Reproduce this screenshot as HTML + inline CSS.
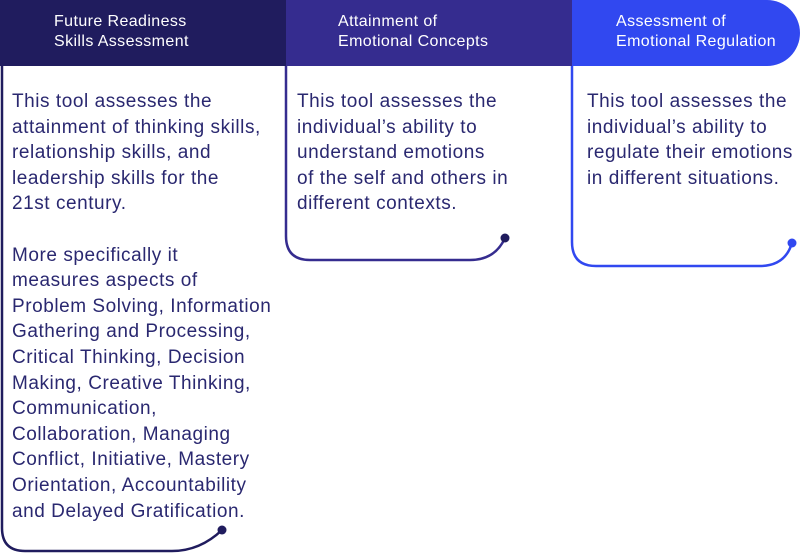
<!DOCTYPE html>
<html><head><meta charset="utf-8"><style>
body{margin:0;width:800px;height:553px;background:#fff;position:relative;overflow:hidden;font-family:"Liberation Sans",sans-serif}
.h{position:absolute;top:0;height:66px;color:#fff;font-size:16px;line-height:20px;letter-spacing:0.4px;box-sizing:border-box;padding-top:12px}
.t{position:absolute;color:#2a2870;font-size:19px;line-height:25.6px;letter-spacing:0.55px;white-space:nowrap}
</style></head><body>
<div class="h" style="left:0;width:286px;background:#201c5e;padding-left:54px">Future Readiness<br>Skills Assessment</div>
<div class="h" style="left:286px;width:286px;background:#352c8f;padding-left:52px">Attainment of<br>Emotional Concepts</div>
<div class="h" style="left:572px;width:228px;background:#3148f0;padding-left:44px;border-radius:0 33px 33px 0">Assessment of<br>Emotional Regulation</div>
<svg width="800" height="553" style="position:absolute;left:0;top:0">
<path d="M2 66 V528 Q2 551 25 551 H172 Q200 551 222 530" fill="none" stroke="#201c5e" stroke-width="2.5"/>
<circle cx="222" cy="530" r="4.5" fill="#201c5e"/>
<path d="M286 66 V236 Q286 260 310 260 H470 Q495 260 505 238" fill="none" stroke="#352c8f" stroke-width="2.5"/>
<circle cx="505" cy="238" r="4.5" fill="#201c5e"/>
<path d="M572 66 V242 Q572 266 596 266 H760 Q785 266 792 243" fill="none" stroke="#3148f0" stroke-width="2.5"/>
<circle cx="792" cy="243" r="4.5" fill="#3148f0"/>
</svg>
<div class="t" style="left:12px;top:89px">This tool assesses the<br>attainment of thinking skills,<br>relationship skills, and<br>leadership skills for the<br>21st century.<br><br>More specifically it<br>measures aspects of<br>Problem Solving, Information<br>Gathering and Processing,<br>Critical Thinking, Decision<br>Making, Creative Thinking,<br>Communication,<br>Collaboration, Managing<br>Conflict, Initiative, Mastery<br>Orientation, Accountability<br>and Delayed Gratification.</div>
<div class="t" style="left:297px;top:89px">This tool assesses the<br>individual’s ability to<br>understand emotions<br>of the self and others in<br>different contexts.</div>
<div class="t" style="left:587px;top:89px">This tool assesses the<br>individual’s ability to<br>regulate their emotions<br>in different situations.</div>
</body></html>
